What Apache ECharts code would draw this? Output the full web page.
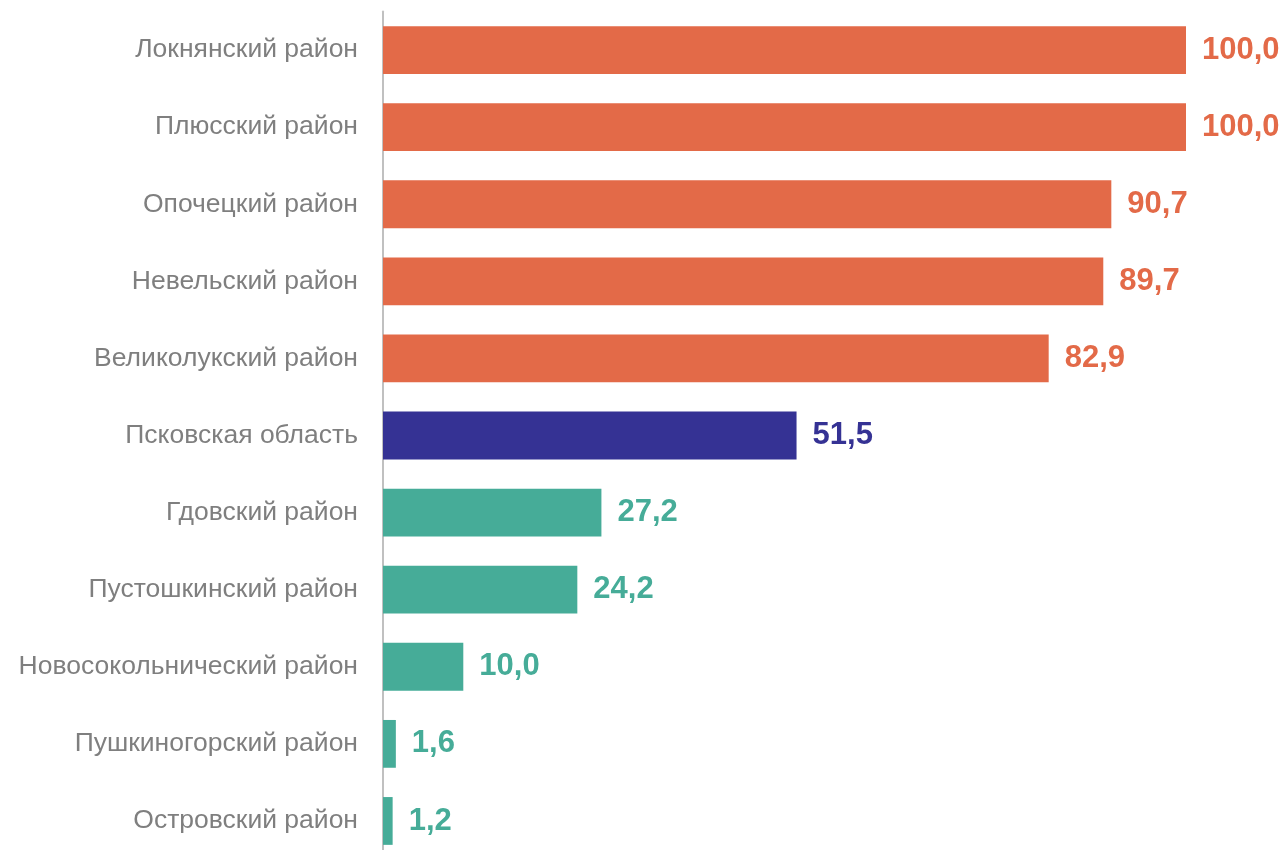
<!DOCTYPE html>
<html>
<head>
<meta charset="utf-8">
<script src="https://cdn.jsdelivr.net/npm/echarts@6/dist/echarts.min.js"></script>
<style>
html,body{margin:0;padding:0;background:#fff;overflow:hidden;}
#chart{width:1286px;height:860px;}
</style>
</head>
<body>
<div id="chart"></div>
<script>
const categories = [
  'Локнянский район',
  'Плюсский район',
  'Опочецкий район',
  'Невельский район',
  'Великолукский район',
  'Псковская область',
  'Гдовский район',
  'Пустошкинский район',
  'Новосокольнический район',
  'Пушкиногорский район',
  'Островский район'
];
const values = [100.0, 100.0, 90.7, 89.7, 82.9, 51.5, 27.2, 24.2, 10.0, 1.6, 1.2];
const groups = ['high','high','high','high','high','region','low','low','low','low','low'];

const palette = { high: '#E36A48', region: '#353294', low: '#46AC98' };

const chart = echarts.init(document.getElementById('chart'));
chart.setOption({
  animation: false,
  backgroundColor: '#ffffff',
  grid: { left: 383, top: 11.5, bottom: 0.5, right: 100, containLabel: false },
  xAxis: { type: 'value', min: 0, max: 100, show: false },
  yAxis: {
    type: 'category',
    data: categories,
    inverse: true,
    axisLine: { show: true, lineStyle: { color: '#c0c0c0', width: 2 } },
    axisTick: { show: false },
    axisLabel: { color: '#7f7f7f', fontSize: 26.5, fontFamily: 'Liberation Sans, Arial, sans-serif', margin: 25, padding: [3, 0, 0, 0] }
  },
  series: [{
    type: 'bar',
    barCategoryGap: '38%',
    data: values.map((v, i) => ({
      value: v,
      itemStyle: { color: palette[groups[i]] },
      label: { color: palette[groups[i]] }
    })),
    label: {
      show: true,
      position: 'right',
      distance: 16,
      fontSize: 31,
      fontWeight: 'bold',
      fontFamily: 'Liberation Sans, Arial, sans-serif',
      padding: [4, 0, 0, 0],
      formatter: p => p.value.toFixed(1).replace('.', ',')
    }
  }]
});
</script>
</body>
</html>
